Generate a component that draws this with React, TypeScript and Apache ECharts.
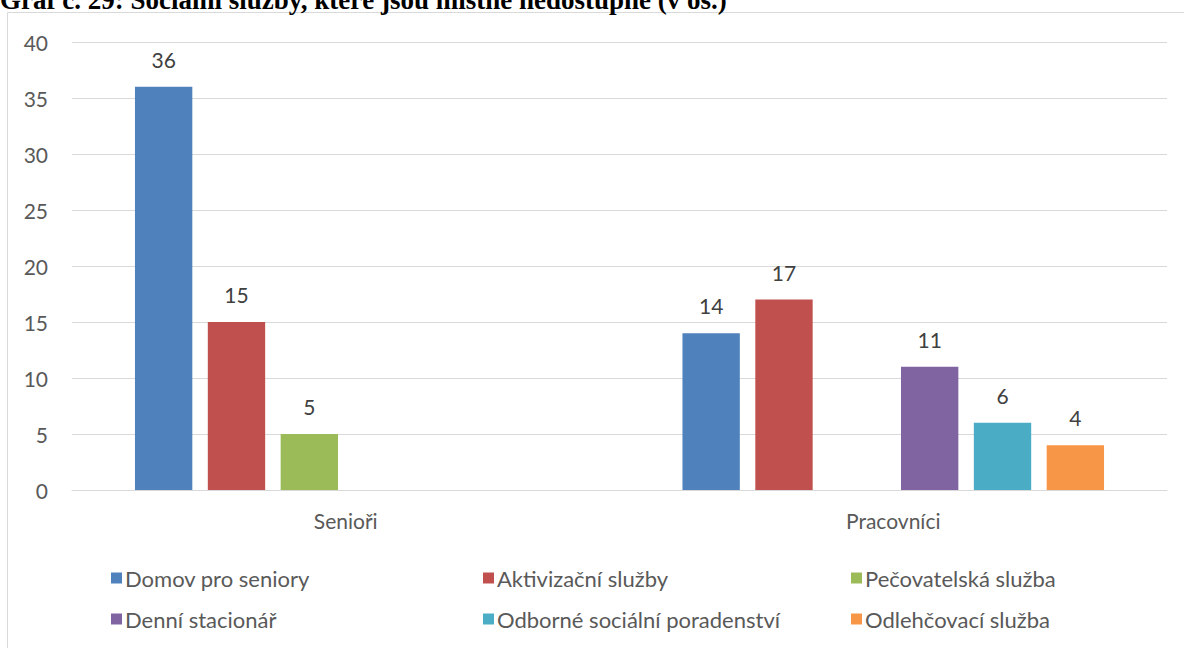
import React, { useEffect, useRef } from "react";
import * as echarts from "echarts";

const categories = ["Senioři", "Pracovníci"];
const seriesNames = [
  "Domov pro seniory",
  "Aktivizační služby",
  "Pečovatelská služba",
  "Denní stacionář",
  "Odborné sociální poradenství",
  "Odlehčovací služba",
];
const domov = [36, 14];
const aktivizacni = [15, 17];
const pecovatelska = [5, null];
const denni = [null, 11];
const odborne = [null, 6];
const odlehcovaci = [null, 4];
const seriesValues = [domov, aktivizacni, pecovatelska, denni, odborne, odlehcovaci];
const colors = ["#4F81BD", "#C0504D", "#9BBB59", "#8064A2", "#4BACC6", "#F79646"];
const titleText = "Graf č. 29: Sociální služby, které jsou místně nedostupné (v os.)";

const FONT = "Lato, 'Open Sans', sans-serif";
const FS = 21;
const LFS = 22;

export default function App() {
  const ref = useRef<HTMLDivElement>(null);
  useEffect(() => {
    if (!ref.current) return;
    const chart = echarts.init(ref.current, undefined, { renderer: "svg" });
    const legendPos = [
      { left: 106, top: 562 },
      { left: 478, top: 562 },
      { left: 846, top: 562 },
      { left: 106, top: 603 },
      { left: 478, top: 603 },
      { left: 846, top: 603 },
    ];
    chart.setOption({
      animation: false,
      backgroundColor: "#ffffff",
      grid: { left: 72, right: 17, top: 42, bottom: 158 },
      xAxis: {
        type: "category",
        data: categories,
        axisLine: { show: true, lineStyle: { color: "#d9d9d9", width: 1 } },
        axisTick: { show: false },
        axisLabel: { color: "#595959", fontSize: FS, fontFamily: FONT, margin: 20 },
      },
      yAxis: {
        type: "value",
        min: 0,
        max: 40,
        interval: 5,
        axisLine: { show: false },
        axisTick: { show: false },
        splitLine: { lineStyle: { color: "#d9d9d9", width: 1 } },
        axisLabel: { color: "#595959", fontSize: FS, fontFamily: FONT, margin: 24 },
      },
      legend: seriesNames.map((n, i) => ({
        data: [n],
        left: legendPos[i].left,
        top: legendPos[i].top,
        icon: "rect",
        itemWidth: 11,
        itemHeight: 11,
        itemGap: 4,
        textStyle: { color: "#595959", fontSize: LFS, fontFamily: FONT, padding: [0, 0, 0, -2] },
      })),
      series: seriesNames.map((n, i) => ({
        name: n,
        type: "bar",
        data: seriesValues[i],
        barCategoryGap: "23%",
        barGap: "27%",
        itemStyle: { color: colors[i] },
        label: {
          show: true,
          position: "top",
          distance: 17,
          color: "#404040",
          fontSize: FS,
          fontFamily: FONT,
        },
      })),
      graphic: [
        {
          type: "rect",
          shape: { x: 7.5, y: 12.5, width: 1200, height: 660 },
          style: { fill: "none", stroke: "#d9d9d9", lineWidth: 1 },
          silent: true,
        },
        {
          type: "text",
          x: 0,
          y: 13,
          style: {
            text: titleText,
            font: "bold 27px 'Liberation Serif', 'Times New Roman', serif",
            fill: "#000000",
            verticalAlign: "bottom",
            align: "left",
          },
        },
      ],
    });
    return () => chart.dispose();
  }, []);
  return (
    <div
      ref={ref}
      style={{ position: "fixed", left: 0, top: 0, width: 1184, height: 648, background: "#fff" }}
    />
  );
}
